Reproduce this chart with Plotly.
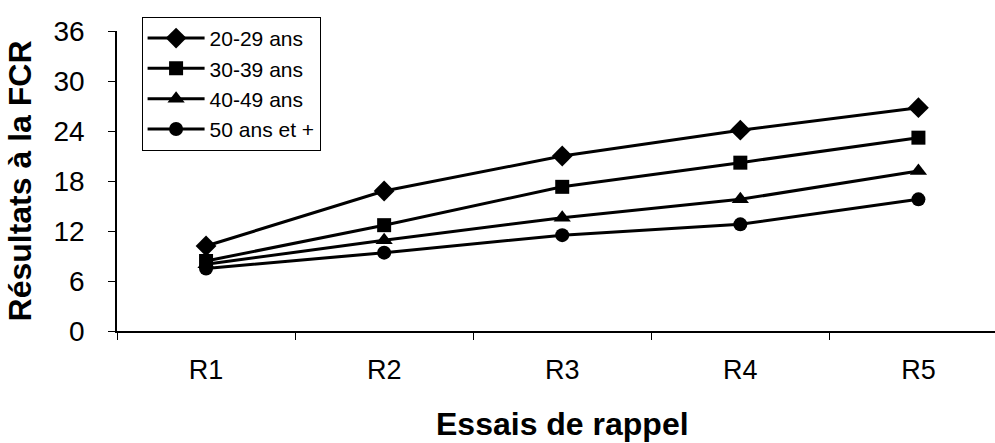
import plotly.graph_objects as go

categories = ["R1", "R2", "R3", "R4", "R5"]
series_names = ["20-29 ans", "30-39 ans", "40-49 ans", "50 ans et +"]
vals_20_29 = [10.2, 16.8, 21.0, 24.1, 26.8]
vals_30_39 = [8.4, 12.7, 17.3, 20.2, 23.2]
vals_40_49 = [8.0, 10.9, 13.6, 15.8, 19.2]
vals_50_plus = [7.5, 9.4, 11.5, 12.8, 15.8]
y_ticks = [0, 6, 12, 18, 24, 30, 36]

series = [vals_20_29, vals_30_39, vals_40_49, vals_50_plus]
symbols = ["diamond", "square", "triangle-up", "circle"]
sizes = [16, 14, 15, 14]

fig = go.Figure()
for name, vals, sym, sz in zip(series_names, series, symbols, sizes):
    fig.add_trace(go.Scatter(
        x=categories, y=vals, name=name, mode="lines+markers",
        line=dict(color="black", width=3),
        marker=dict(symbol=sym, size=sz, color="black"),
    ))

font_family = "Liberation Sans, Arial, sans-serif"
fig.update_layout(
    width=995, height=443,
    margin=dict(l=117, r=0, t=31, b=112),
    plot_bgcolor="white", paper_bgcolor="white",
    font=dict(family=font_family, color="black"),
    showlegend=True,
    legend=dict(
        x=0.028, y=1.047, xanchor="left", yanchor="top",
        bgcolor="white", bordercolor="black", borderwidth=1,
        font=dict(size=21, family=font_family, color="black"),
        tracegroupgap=0, itemwidth=57,
    ),
    xaxis=dict(
        type="category", range=[-0.5, 4.43],
        showline=True, linecolor="black", linewidth=1.5,
        ticks="outside", ticklen=7, tickcolor="black",
        tickson="boundaries", showgrid=False, zeroline=False,
        tickfont=dict(size=27, family=font_family),
        ticklabelstandoff=14,
    ),
    yaxis=dict(
        range=[0, 36], tickvals=y_ticks,
        showline=True, linecolor="black", linewidth=1.5,
        ticks="outside", ticklen=7, tickcolor="black",
        showgrid=False, zeroline=False,
        tickfont=dict(size=28, family=font_family),
        ticklabelstandoff=18,
        title=dict(text="<b>Résultats à la FCR</b>", font=dict(size=32, family=font_family), standoff=12),
    ),
    annotations=[dict(
        text="<b>Essais de rappel</b>", xref="paper", yref="paper",
        x=(562 - 117) / 878, y=-(424 - 331) / 300, xanchor="center", yanchor="middle",
        showarrow=False, font=dict(size=32, family=font_family, color="black"),
    )],
)

fig.write_html("out.html")
